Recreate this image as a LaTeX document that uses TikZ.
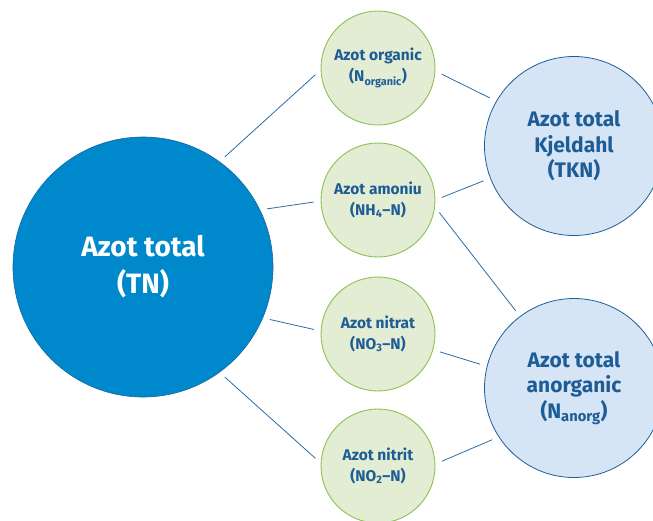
\documentclass[tikz,border=0pt]{standalone}
\usepackage{fontspec}
\setmainfont{Fira Sans}
\definecolor{tnblue}{HTML}{0088CC}
\definecolor{tnedge}{HTML}{17649E}
\definecolor{textblue}{HTML}{1E5C96}
\definecolor{lineblue}{HTML}{2C6CA3}
\definecolor{partfill}{HTML}{E2EDD3}
\definecolor{partedge}{HTML}{8CC152}
\definecolor{sumfill}{HTML}{D5E5F5}
\definecolor{sumedge}{HTML}{1F5F99}
\begin{document}
\begin{tikzpicture}[x=1pt, y=-1pt,
  every node/.style={circle, align=center, inner sep=0pt, font=\bfseries},
  total/.style={fill=tnblue, draw=tnedge, line width=.6pt, minimum size=260pt, text=white,
    font=\bfseries\fontsize{28}{37}\selectfont},
  part/.style={fill=partfill, draw=partedge, line width=.9pt, minimum size=114pt, text=textblue,
    font=\bfseries\fontsize{15.5}{20.5}\selectfont},
  sum/.style={fill=sumfill, draw=sumedge, line width=.8pt, minimum size=179pt, text=textblue,
    font=\bfseries\fontsize{21}{25.5}\selectfont},
  link/.style={draw=lineblue, line width=.8pt, shorten <=7pt, shorten >=7pt}]
  \clip (0,0) rectangle (653,520);
  \useasboundingbox (0,0) rectangle (653,520);
  \node [total] (tn) at (143,267) {Azot total\\(TN)};
  \node [part] (org) at (378,68) {Azot organic\\(N\textsubscript{organic})};
  \node [part] (amm) at (378,200) {Azot amoniu\\(NH\textsubscript{4}--N)};
  \node [part] (nat) at (378,334) {Azot nitrat\\(NO\textsubscript{3}--N)};
  \node [part] (nit) at (378,466) {Azot nitrit\\(NO\textsubscript{2}--N)};
  \node [sum] (tkn) at (574,146) {Azot total\\Kjeldahl\\(TKN)};
  \node [sum] (anorg) at (574,388) {Azot total\\anorganic\\(N\textsubscript{anorg})};
  % total -> fractions
  \draw [link] (tn.54) -- (org.182);
  \draw [link] (tn.26) -- (amm.181);
  \draw [link] (tn.337) -- (nat.177);
  \draw [link] (tn.306) -- (nit.177);
  % fractions -> sums
  \draw [link] (org.357) -- (tkn.150);
  \draw [link] (amm.0) -- (tkn.201);
  \draw [link] (amm.353) -- (anorg.127);
  \draw [link] (nat.344) -- (anorg.166);
  \draw [link] (nit.2) -- (anorg.213);
\end{tikzpicture}
\end{document}
